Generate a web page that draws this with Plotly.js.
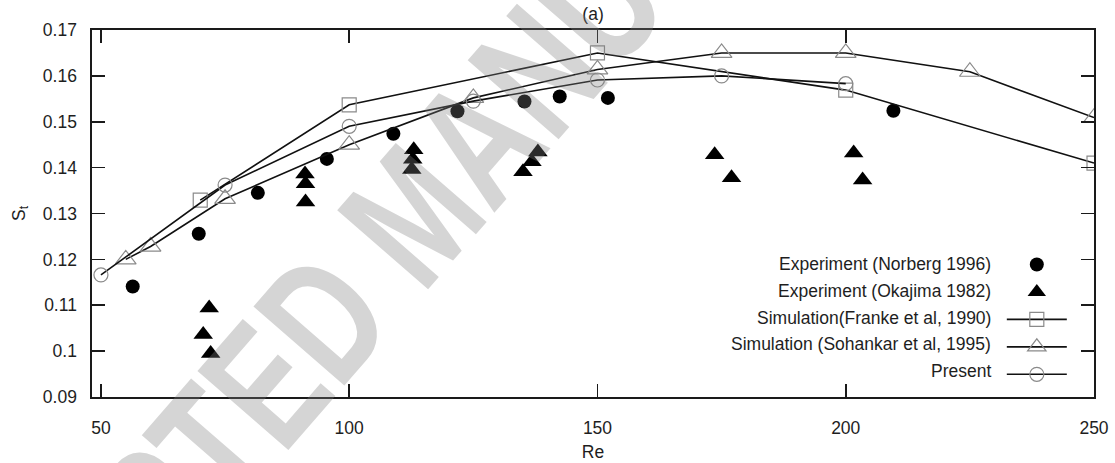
<!DOCTYPE html>
<html><head><meta charset="utf-8">
<script src="https://cdn.plot.ly/plotly-3.0.1.min.js"></script>
<style>html,body{margin:0;padding:0;background:#fff}#chart{width:1115px;height:463px}</style>
</head><body><div id="chart"></div>
<script>
// ---- data ----
const seriesNames = ['Experiment (Norberg 1996)', 'Experiment (Okajima 1982)', 'Simulation(Franke et al, 1990)', 'Simulation (Sohankar et al, 1995)', 'Present'];

const norbergRe = [56.4, 69.7, 81.6, 95.5, 108.9, 121.8, 135.3, 142.4, 152.1, 209.6];
const norbergSt = [0.1141, 0.1256, 0.1345, 0.1419, 0.1474, 0.1523, 0.1544, 0.1555, 0.1552, 0.1524];

const okajimaRe = [71.8, 70.6, 72.1, 91.1, 91.2, 91.2, 113.0, 112.8, 112.6, 138.0, 136.8, 135.0, 173.6, 177.0, 201.6, 203.4];
const okajimaSt = [0.1094, 0.1036, 0.0995, 0.1386, 0.1365, 0.1325, 0.1439, 0.1418, 0.1396, 0.1434, 0.1413, 0.1391, 0.1428, 0.1378, 0.1432, 0.1373];

const frankeRe = [70, 100, 150, 200, 250];
const frankeSt = [0.1329, 0.1537, 0.1650, 0.1569, 0.1410];

const sohankarRe = [55, 60, 75, 100, 125, 150, 175, 200, 225, 250];
const sohankarSt = [0.1200, 0.1228, 0.1332, 0.1450, 0.1552, 0.1614, 0.1650, 0.1650, 0.1609, 0.1509];

const presentRe = [50, 75, 100, 125, 150, 175, 200];
const presentSt = [0.1166, 0.1362, 0.1490, 0.1545, 0.1591, 0.1600, 0.1583];

const xTicks = [50, 100, 150, 200, 250];
const yTicks = [0.09, 0.10, 0.11, 0.12, 0.13, 0.14, 0.15, 0.16, 0.17];
const yTickText = ['0.09', '0.1', '0.11', '0.12', '0.13', '0.14', '0.15', '0.16', '0.17'];

const watermarkText = 'ACCEPTED MANUSCRIPT';

// ---- styles ----
const FONT = 'Liberation Sans, Arial, Helvetica, sans-serif';
const TXT = '#1e1e1e';
const GREY = '#8a8a8a';
const WM_SIZE = 175;
const WM_CONDENSE = 0.73;

const traces = [
  {x: norbergRe, y: norbergSt, mode: 'markers', name: '\u00a0',
   marker: {symbol: 'circle', size: 14, color: '#000'}},
  {x: okajimaRe, y: okajimaSt, mode: 'markers', name: '\u00a0',
   marker: {symbol: 'triangle-up', size: 17, color: '#000'}},
  {x: frankeRe, y: frankeSt, mode: 'lines+markers', name: '\u00a0',
   line: {color: '#111', width: 1.6},
   marker: {symbol: 'square-open', size: 14, color: GREY, line: {width: 1.2}}},
  {x: sohankarRe, y: sohankarSt, mode: 'lines+markers', name: '\u00a0',
   line: {color: '#111', width: 1.6},
   marker: {symbol: 'triangle-up-open', size: 18, color: GREY, line: {width: 1.2}}},
  {x: presentRe, y: presentSt, mode: 'lines+markers', name: '\u00a0',
   line: {color: '#111', width: 1.6},
   marker: {symbol: 'circle-open', size: 14, color: GREY, line: {width: 1.2}}}
];

const legendRowY = [0.3624, 0.2888, 0.2153, 0.1444, 0.0708];
const annotations = seriesNames.map((t, i) => ({
  text: t, xref: 'paper', yref: 'paper', x: 0.899, y: legendRowY[i],
  xanchor: 'right', yanchor: 'middle', showarrow: false,
  font: {family: FONT, size: 17.5, color: TXT}
}));
annotations.push({
  text: watermarkText, xref: 'paper', yref: 'paper', x: 0.321, y: 0.501,
  xanchor: 'center', yanchor: 'middle', showarrow: false, textangle: -49,
  font: {family: FONT, size: WM_SIZE, color: 'rgba(128,128,128,0.33)', weight: 'bold'}
});

const axisCommon = {
  showline: true, linecolor: '#1a1a1a', linewidth: 1.6, mirror: 'ticks',
  ticks: 'inside', ticklen: 13, tickwidth: 1.6, tickcolor: '#1a1a1a',
  showgrid: false, zeroline: false,
  tickfont: {family: FONT, size: 17.5, color: TXT}
};

const layout = {
  width: 1115, height: 463,
  margin: {l: 92, r: 21, t: 30, b: 66},
  paper_bgcolor: '#fff', plot_bgcolor: '#fff',
  font: {family: FONT, size: 17.5, color: TXT},
  title: {text: '(a)', x: 0.5319, xref: 'container', y: 0.97, yref: 'container', yanchor: 'middle',
          font: {family: FONT, size: 17.5, color: TXT}},
  xaxis: Object.assign({}, axisCommon, {
    range: [48.2, 250], tickvals: xTicks, ticklabelstandoff: 14,
    title: {text: 'Re', standoff: 9, font: {family: FONT, size: 17.5, color: TXT}}
  }),
  yaxis: Object.assign({}, axisCommon, {
    range: [0.09, 0.17], tickvals: yTicks, ticktext: yTickText, ticklabelstandoff: 10,
    title: {text: 'S<sub>t</sub>', standoff: 13, font: {family: FONT, size: 17.5, color: TXT}}
  }),
  showlegend: true,
  legend: {x: 0.908, xanchor: 'left', y: 0.412, yanchor: 'top', bgcolor: 'rgba(0,0,0,0)',
           font: {family: FONT, size: 18.8}, itemwidth: 60, tracegroupgap: 0},
  annotations: annotations
};

Plotly.newPlot('chart', traces, layout, {displayModeBar: false, staticPlot: true}).then(function () {
  // condense the watermark glyphs (tall, narrow letters as in the reference)
  document.querySelectorAll('text.annotation-text').forEach(function (el) {
    if (el.textContent === watermarkText) {
      var w = el.getComputedTextLength();
      el.setAttribute('textLength', (w * WM_CONDENSE).toFixed(1));
      el.setAttribute('lengthAdjust', 'spacingAndGlyphs');
    }
  });
});
</script></body></html>
